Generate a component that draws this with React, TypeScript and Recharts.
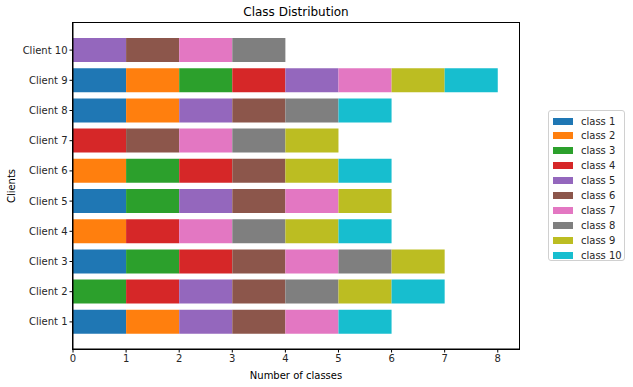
import React from "react";
import { BarChart, Bar, XAxis, YAxis, Label } from "recharts";

const clients = ["Client 1", "Client 2", "Client 3", "Client 4", "Client 5", "Client 6", "Client 7", "Client 8", "Client 9", "Client 10"];
const classNames = ["class 1", "class 2", "class 3", "class 4", "class 5", "class 6", "class 7", "class 8", "class 9", "class 10"];
const colors = ["#1f77b4", "#ff7f0e", "#2ca02c", "#d62728", "#9467bd", "#8c564b", "#e377c2", "#7f7f7f", "#bcbd22", "#17becf"];

const class1 = [1, 0, 1, 0, 1, 0, 0, 1, 1, 0];
const class2 = [1, 0, 0, 1, 0, 1, 0, 1, 1, 0];
const class3 = [0, 1, 1, 0, 1, 1, 0, 0, 1, 0];
const class4 = [0, 1, 1, 1, 0, 1, 1, 0, 1, 0];
const class5 = [1, 1, 0, 0, 1, 0, 0, 1, 1, 1];
const class6 = [1, 1, 1, 0, 1, 1, 1, 1, 0, 1];
const class7 = [1, 0, 1, 1, 1, 0, 1, 0, 1, 1];
const class8 = [0, 1, 1, 1, 0, 0, 1, 1, 0, 1];
const class9 = [0, 1, 1, 1, 1, 1, 1, 0, 1, 0];
const class10 = [1, 1, 0, 1, 0, 1, 0, 1, 1, 0];
const xTicks = [0, 1, 2, 3, 4, 5, 6, 7, 8];

const series = [class1, class2, class3, class4, class5, class6, class7, class8, class9, class10];

const data = clients.map((name, i) => {
  const row: Record<string, any> = { name };
  series.forEach((s, k) => {
    row[`c${k + 1}`] = s[i];
  });
  return row;
});

const FONT = "'DejaVu Sans', sans-serif";
const tickStyle = { fontSize: 10, fill: "#262626", fontFamily: FONT };

export default function App() {
  return (
    <div style={{ position: "absolute", left: 0, top: 0, width: 633, height: 387, background: "#fff", fontFamily: FONT }}>
      <div style={{ position: "absolute", left: 73, width: 446, top: 5, textAlign: "center", fontSize: 12, color: "#000" }}>
        Class Distribution
      </div>
      <BarChart
        width={633}
        height={387}
        data={data}
        layout="vertical"
        margin={{ top: 23, right: 114, bottom: 0, left: 0 }}
        barCategoryGap="10%"
      >
        <XAxis
          type="number"
          domain={[0, 8.4]}
          ticks={xTicks}
          allowDataOverflow
          height={38}
          tick={tickStyle}
          tickSize={3.5}
          tickMargin={2}
          stroke="#000"
          axisLine={{ stroke: "#000", strokeWidth: 1 }}
          tickLine={{ stroke: "#000" }}
        >
          <Label value="Number of classes" position="insideBottom" offset={8} style={{ fontSize: 10, fill: "#000", fontFamily: FONT }} />
        </XAxis>
        <YAxis
          type="category"
          dataKey="name"
          reversed
          width={73}
          padding={{ top: 12, bottom: 12 }}
          tick={tickStyle}
          tickSize={3.5}
          tickMargin={2}
          interval={0}
          axisLine={{ stroke: "#000", strokeWidth: 1 }}
          tickLine={{ stroke: "#000" }}
        >
          <Label
            content={(props: any) => {
              const vb = props.viewBox || {};
              const cx = 11;
              const cy = (vb.y ?? 23) + (vb.height ?? 326) / 2;
              return (
                <text
                  x={cx}
                  y={cy}
                  transform={`rotate(-90 ${cx} ${cy})`}
                  textAnchor="middle"
                  dominantBaseline="central"
                  style={{ fontSize: 10, fill: "#000", fontFamily: FONT }}
                >
                  Clients
                </text>
              );
            }}
          />
        </YAxis>
        {classNames.map((cn, k) => (
          <Bar key={cn} dataKey={`c${k + 1}`} name={cn} stackId="a" fill={colors[k]} isAnimationActive={false} />
        ))}
      </BarChart>
      <div
        style={{
          position: "absolute",
          left: 72,
          top: 22,
          width: 448,
          height: 328,
          border: "1px solid #000",
          boxSizing: "border-box",
          pointerEvents: "none",
        }}
      />
      <div
        style={{
          position: "absolute",
          left: 548,
          top: 110,
          width: 77,
          height: 151,
          border: "1px solid #d0d0d0",
          borderRadius: 3,
          boxSizing: "border-box",
          background: "#fff",
        }}
      >
        {classNames.map((cn, k) => (
          <div key={cn} style={{ position: "absolute", left: 4, top: 3 + k * 14.9, height: 14, display: "flex", alignItems: "center" }}>
            <div style={{ width: 20, height: 7, background: colors[k] }} />
            <span style={{ marginLeft: 8, fontSize: 10, color: "#262626", whiteSpace: "nowrap" }}>{cn}</span>
          </div>
        ))}
      </div>
    </div>
  );
}
